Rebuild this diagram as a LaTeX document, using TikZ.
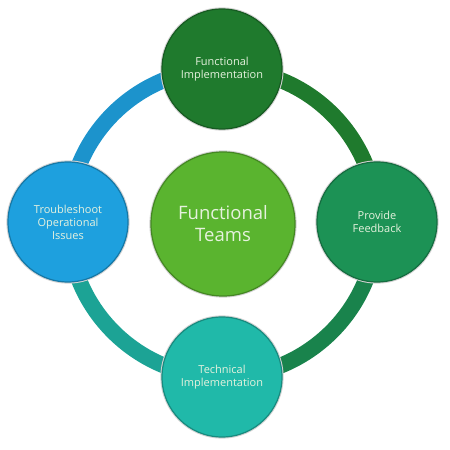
\documentclass[tikz,border=0pt]{standalone}
\usepackage{fontspec}
\setmainfont{Open Sans}
\usetikzlibrary{positioning, backgrounds}
\definecolor{hubgreen}{HTML}{5AB42F}
\definecolor{topgreen}{HTML}{1F7A2D}
\definecolor{rightgreen}{HTML}{1C9255}
\definecolor{bottomteal}{HTML}{20B9A9}
\definecolor{leftblue}{HTML}{1EA0DE}
\definecolor{paletext}{HTML}{E6F2DE}
\tikzset{
  phase/.style={circle, minimum size=120pt, inner sep=0pt, align=center,
    font=\fontsize{11}{13}\selectfont, text=paletext, line width=1.2pt,
    preaction={draw=gray!35, line width=3.2pt}},
  hub/.style={phase, minimum size=144pt, font=\fontsize{18.5}{22}\selectfont},
  ring/.style={line width=16pt}
}
\begin{document}
\begin{tikzpicture}[x=1pt,y=1pt]
  \useasboundingbox (0,0) rectangle (450,450);

  \node[hub, fill=hubgreen, draw=hubgreen!75!black] (teams) at (223,226) {Functional\\Teams};

  \node[phase, fill=topgreen, draw=topgreen!75!black] (funcimpl) at (222,381) {Functional\\Implementation};
  \node[phase, fill=rightgreen, draw=rightgreen!75!black] (feedback) at (377,228) {Provide\\Feedback};
  \node[phase, fill=bottomteal, draw=bottomteal!75!black] (techimpl) at (222,73) {Technical\\Implementation};
  \node[phase, fill=leftblue, draw=leftblue!75!black] (trouble) at (68,228) {Troubleshoot\\Operational\\Issues};

  % ring behind the circles
  \begin{scope}[on background layer]
    \draw[ring, draw=leftblue!92!black] (trouble.center) to[bend left=45] (funcimpl.center);
    \draw[ring, draw=topgreen] (funcimpl.center) to[bend left=45] (feedback.center);
    \draw[ring, draw=rightgreen!90!black] (feedback.center) to[bend left=45] (techimpl.center);
    \draw[ring, draw=bottomteal!88!black] (techimpl.center) to[bend left=45] (trouble.center);
  \end{scope}
\end{tikzpicture}
\end{document}
